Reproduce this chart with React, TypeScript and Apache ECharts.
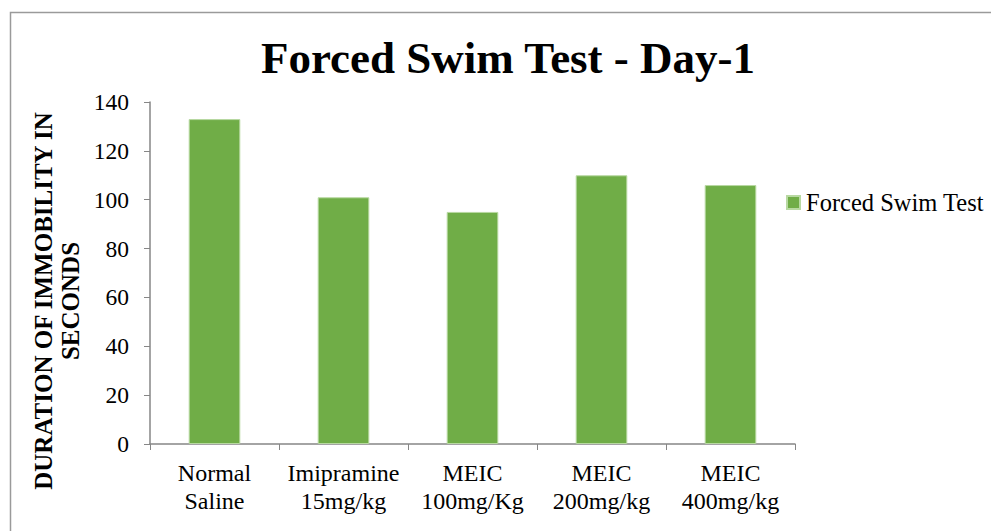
import React, { useEffect, useRef } from "react";
import * as echarts from "echarts";

const categories = ["Normal\nSaline", "Imipramine\n15mg/kg", "MEIC\n100mg/Kg", "MEIC\n200mg/kg", "MEIC\n400mg/kg"];
const values = [133, 101, 95, 110, 106];
const seriesName = "Forced Swim Test";
const titleText = "Forced Swim Test - Day-1";
const yAxisTitle = "DURATION OF IMMOBILITY IN\nSECONDS";

const FONT = "'Liberation Serif', 'Times New Roman', serif";

export default function App() {
  const ref = useRef<HTMLDivElement>(null);
  useEffect(() => {
    if (!ref.current) return;
    const chart = echarts.init(ref.current, undefined, { renderer: "svg" });
    chart.setOption({
      animation: false,
      backgroundColor: "#ffffff",
      title: {
        text: titleText,
        left: 503,
        top: 30,
        textAlign: "center",
        textStyle: { fontFamily: FONT, fontSize: 45, fontWeight: "bold", color: "#000" },
      },
      legend: {
        data: [seriesName],
        left: 781,
        top: 185,
        itemWidth: 13,
        itemHeight: 13,
        itemGap: 6,
        icon: "rect",
        textStyle: { fontFamily: FONT, fontSize: 24.5, color: "#000", padding: [0, 0, 0, 1] },
      },
      grid: { left: 150, right: 196, top: 102, bottom: 87, containLabel: false },
      xAxis: {
        type: "category",
        data: categories,
        axisLine: { lineStyle: { color: "#868686", width: 1.5 } },
        axisTick: { show: true, length: 6, alignWithLabel: false, lineStyle: { color: "#868686" } },
        axisLabel: {
          fontFamily: FONT,
          fontSize: 24,
          color: "#000",
          lineHeight: 28,
          margin: 15,
          interval: 0,
        },
      },
      yAxis: {
        type: "value",
        min: 0,
        max: 140,
        interval: 20,
        axisLine: { show: true, lineStyle: { color: "#868686", width: 1.5 } },
        axisTick: { show: true, length: 6, lineStyle: { color: "#868686" } },
        splitLine: { show: false },
        axisLabel: { fontFamily: FONT, fontSize: 23.5, color: "#000", margin: 21 },
      },
      series: [
        {
          name: seriesName,
          type: "bar",
          data: values,
          barWidth: "40%",
          itemStyle: { color: "#70AD47", borderColor: "#b8d9a2", borderWidth: 1 },
        },
      ],
      graphic: [
        {
          type: "polyline",
          shape: { points: [[10.5, 531], [10.5, 12.5], [991, 12.5]] },
          style: { stroke: "#9a9a9a", lineWidth: 1.5, fill: "none" },
          silent: true,
        },
        {
          type: "text",
          x: 57,
          y: 301,
          rotation: Math.PI / 2,
          style: {
            text: yAxisTitle,
            fontFamily: FONT,
            fontSize: 25,
            fontWeight: "bold",
            fill: "#000",
            align: "center",
            verticalAlign: "middle",
            lineHeight: 27,
          },
        },
      ],
    });
    return () => chart.dispose();
  }, []);
  return <div ref={ref} style={{ width: 991, height: 531, position: "absolute", left: 0, top: 0 }} />;
}
